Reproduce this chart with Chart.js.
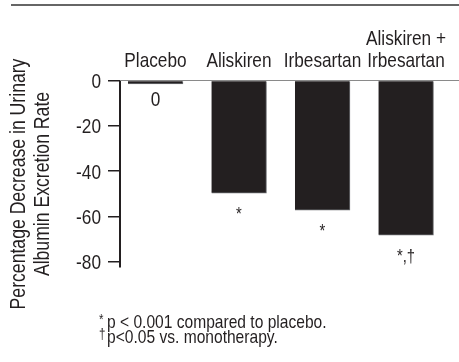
<!DOCTYPE html>
<html>
<head>
<meta charset="utf-8">
<script src="https://cdn.jsdelivr.net/npm/chart.js@4.4.1/dist/chart.umd.min.js"></script>
<style>
  html, body { margin: 0; padding: 0; background: #fff; }
  #wrap { width: 459px; height: 362px; position: relative; }
</style>
</head>
<body>
<div id="wrap"><canvas id="c" width="459" height="362"></canvas></div>
<script>
// ---- data ----
const categories = [["Placebo"], ["Aliskiren"], ["Irbesartan"], ["Aliskiren +", "Irbesartan"]];
const values = [-1.5, -49.7, -57.2, -68.2];
const valueLabels = ["0", "*", "*", "*,\u2020"];
const yTicks = [0, -20, -40, -60, -80];
const yTitle = ["Percentage Decrease in Urinary", "Albumin Excretion Rate"];
const footnotes = [
  { mark: "*", text: "p < 0.001 compared to placebo." },
  { mark: "\u2020", text: "p<0.05 vs. monotherapy." }
];

const FONT = '"Liberation Sans", Arial, sans-serif';
const NARROW = 0.82;   // horizontal condensing (Arial Narrow look)
const INK = '#231f20';

function txt(ctx, s, x, y, size, align) {
  ctx.save();
  ctx.font = size + 'px ' + FONT;
  ctx.textAlign = align || 'center';
  ctx.textBaseline = 'alphabetic';
  ctx.translate(x, y);
  ctx.scale(NARROW, 1);
  ctx.fillText(s, 0, 0);
  ctx.restore();
}

const decor = {
  id: 'decor',
  afterDraw(chart) {
    const ctx = chart.ctx;
    const xs = chart.scales.x, ys = chart.scales.y;
    const area = chart.chartArea;
    ctx.save();
    // top rule
    ctx.strokeStyle = '#333';
    ctx.lineWidth = 1.5;
    ctx.beginPath(); ctx.moveTo(11, 5); ctx.lineTo(chart.width, 5); ctx.stroke();
    // zero line
    const y0 = ys.getPixelForValue(0);
    ctx.strokeStyle = '#8a8a8a';
    ctx.lineWidth = 1;
    ctx.beginPath(); ctx.moveTo(area.left, y0); ctx.lineTo(chart.width, y0); ctx.stroke();

    ctx.fillStyle = INK;
    // y tick labels
    ys.ticks.forEach(t => {
      txt(ctx, String(t.value), area.left - 19, ys.getPixelForValue(t.value) + 7.5, 21, 'right');
    });
    // category labels (above plot)
    categories.forEach((lines, i) => {
      const x = xs.getPixelForValue(i);
      lines.forEach((ln, j) => {
        txt(ctx, ln, x, 67 - (lines.length - 1 - j) * 22, 21, 'center');
      });
    });
    // value labels under bars
    values.forEach((v, i) => {
      const x = xs.getPixelForValue(i);
      const yb = ys.getPixelForValue(v);
      const lab = valueLabels[i];
      if (lab === "0") txt(ctx, lab, x, yb + 22.5, 21, 'center');
      else txt(ctx, lab, x, yb + 26.5, 18, 'center');
    });
    // y title (rotated)
    const cy = 184;
    yTitle.forEach((t, j) => {
      ctx.save();
      ctx.translate(25 + j * 24, cy);
      ctx.rotate(-Math.PI / 2);
      txt(ctx, t, 0, 0, 21.5, 'center');
      ctx.restore();
    });
    // footnotes
    footnotes.forEach((f, j) => {
      const by = 328 + j * 15;
      txt(ctx, f.mark, 99, by - 3.6, 14, 'left');
      txt(ctx, f.text, 107, by, 19, 'left');
    });
    ctx.restore();
  }
};

new Chart(document.getElementById('c'), {
  type: 'bar',
  data: {
    datasets: [{
      data: values.map((v, i) => ({ x: i, y: v })),
      backgroundColor: INK,
      borderColor: '#6d6e71',
      borderWidth: { top: 0, left: 0, right: 1, bottom: 1 },
      borderSkipped: false,
      barThickness: 55
    }]
  },
  options: {
    responsive: false,
    animation: false,
    devicePixelRatio: 1,
    layout: { padding: { top: 80.5, bottom: 95, left: 0, right: 0 } },
    plugins: { legend: { display: false }, tooltip: { enabled: false } },
    scales: {
      x: {
        type: 'linear',
        display: false,
        offset: false,
        min: -0.425,
        max: 3.635
      },
      y: {
        min: -82.3,
        max: 0,
        afterFit(s) { s.width = 120; },
        afterBuildTicks(s) { s.ticks = yTicks.map(v => ({ value: v })); },
        border: { display: true, color: INK, width: 2 },
        grid: {
          display: true,
          drawOnChartArea: false,
          drawTicks: true,
          tickLength: 12,
          color: INK,
          lineWidth: 1.5
        },
        ticks: { display: false }
      }
    }
  },
  plugins: [decor]
});
</script>
</body>
</html>
